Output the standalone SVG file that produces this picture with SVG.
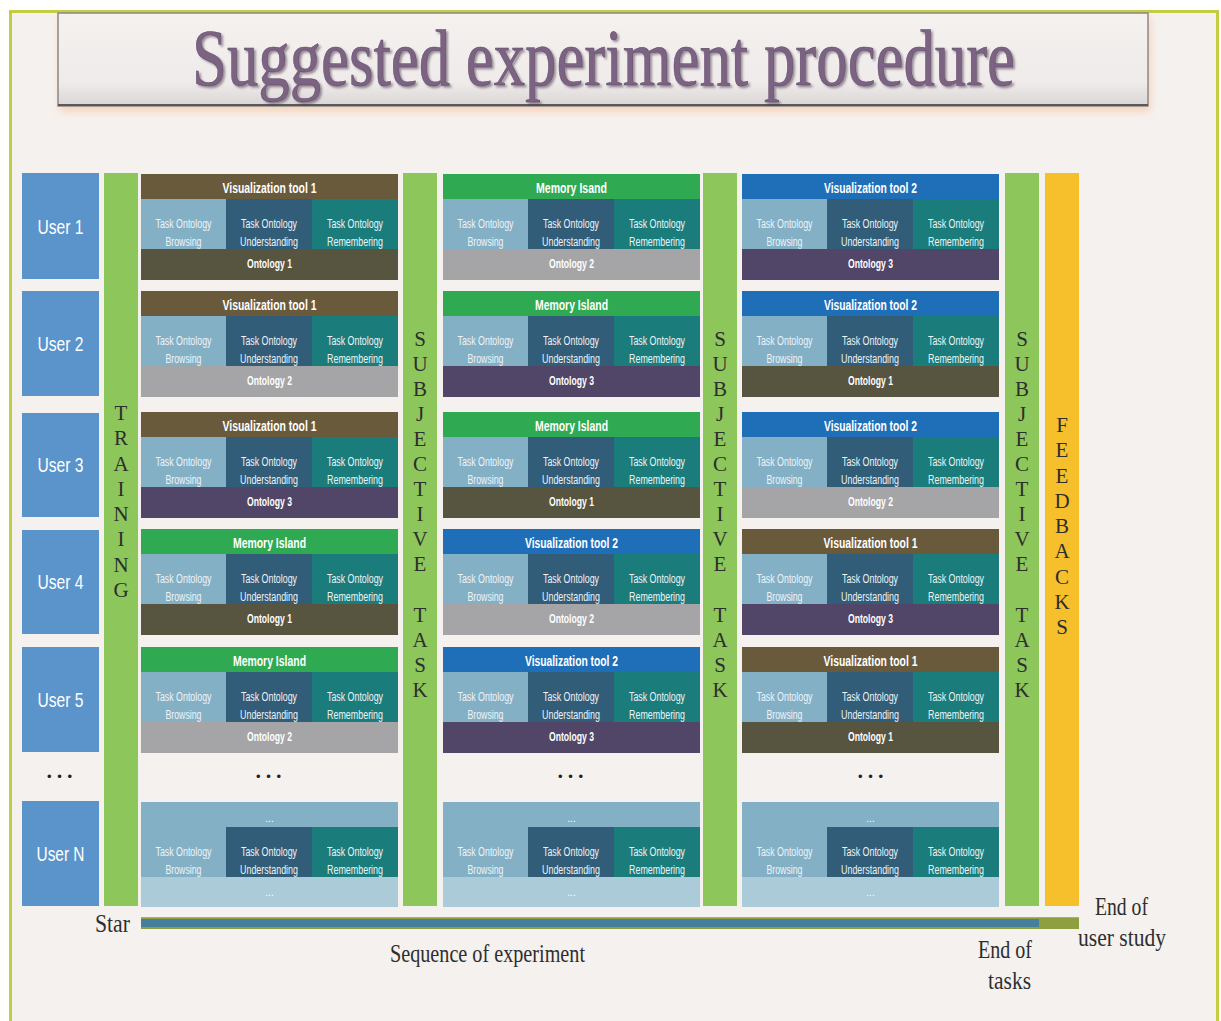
<svg xmlns="http://www.w3.org/2000/svg" xmlns:xlink="http://www.w3.org/1999/xlink" width="1221" height="1021" viewBox="0 0 1221 1021">
<style>
.ut{font-family:"Liberation Sans",Arial,sans-serif;font-size:21px;fill:#fff;text-anchor:middle}
.ht{font-family:"Liberation Sans",Arial,sans-serif;font-size:14px;font-weight:bold;fill:#fff;text-anchor:middle}
.ot{font-family:"Liberation Sans",Arial,sans-serif;font-size:12.5px;font-weight:bold;fill:#fff;text-anchor:middle}
.ct{font-family:"Liberation Sans",Arial,sans-serif;font-size:12.5px;fill:#eef4f7;text-anchor:middle}
.dt{font-family:"Liberation Sans",Arial,sans-serif;font-size:10px;fill:#fff;text-anchor:middle}
.vl{font-family:"Liberation Serif","Times New Roman",serif;font-size:21px;fill:#2e2e2e;text-anchor:middle}
.lb{font-family:"Liberation Serif","Times New Roman",serif;font-size:25px;fill:#2e2e2e}
.dots{font-family:"Liberation Sans",Arial,sans-serif;font-size:13px;fill:#222}
.vt1{fill:#6a5a3c}.mi{fill:#2faa52}.vt2{fill:#1f6fb8}
.o1{fill:#57543f}.o2{fill:#a5a5a8}.o3{fill:#514668}
.usr{fill:#5b94cb}.grn{fill:#8dc65a}
</style>
<defs>
<linearGradient id="tg" x1="0" y1="0" x2="0" y2="1">
<stop offset="0" stop-color="#f4f1ef"/>
<stop offset="0.75" stop-color="#efebea"/>
<stop offset="1" stop-color="#d9d5d4"/>
</linearGradient>
<filter id="glow" x="-5%" y="-30%" width="110%" height="160%">
<feGaussianBlur stdDeviation="4"/>
</filter>
<filter id="ts" x="-5%" y="-20%" width="110%" height="150%">
<feDropShadow dx="2" dy="1.6" stdDeviation="0.8" flood-color="#3c2c40" flood-opacity="0.5"/>
</filter>
<g id="tasks">
<rect x="0" y="0" width="85" height="50" fill="#84b0c6"/>
<rect x="85" y="0" width="86" height="50" fill="#325d78"/>
<rect x="171" y="0" width="86" height="50" fill="#1b7d7b"/>
<text class="ct" x="42.5" y="29" textLength="56" lengthAdjust="spacingAndGlyphs">Task Ontology</text>
<text class="ct" x="42.5" y="47" textLength="36" lengthAdjust="spacingAndGlyphs">Browsing</text>
<text class="ct" x="128" y="29" textLength="56" lengthAdjust="spacingAndGlyphs">Task Ontology</text>
<text class="ct" x="128" y="47" textLength="58" lengthAdjust="spacingAndGlyphs">Understanding</text>
<text class="ct" x="214" y="29" textLength="56" lengthAdjust="spacingAndGlyphs">Task Ontology</text>
<text class="ct" x="214" y="47" textLength="56" lengthAdjust="spacingAndGlyphs">Remembering</text>
</g>
</defs>

<rect x="0" y="0" width="1221" height="1021" fill="#ffffff"/>
<rect x="10" y="10" width="1208" height="1011" fill="#f5f1ee"/>
<g id="frame" fill="none" stroke="#c3cd42" stroke-width="3">
<line x1="10" y1="11.5" x2="1218" y2="11.5"/>
<line x1="10.5" y1="10" x2="10.5" y2="1021"/>
<line x1="1217.5" y1="10" x2="1217.5" y2="1021"/>
</g>

<g id="title">
<rect x="60" y="18" width="1090" height="93" fill="#f7c7a6" filter="url(#glow)" opacity="0.8"/>
<rect x="58" y="13" width="1090" height="93" fill="url(#tg)" stroke="#8a8888" stroke-width="1.5"/>
<line x1="58" y1="105" x2="1148" y2="105" stroke="#5a5858" stroke-width="2"/>
<text transform="translate(192,85) scale(1,1.27)" x="0" y="0" font-family="'Liberation Serif','Times New Roman',serif" font-size="63" fill="#7c6383" stroke="#5d4865" stroke-width="0.4" textLength="823" lengthAdjust="spacingAndGlyphs" filter="url(#ts)">Suggested experiment procedure</text>
</g>

<!-- Users -->
<g id="user1"><rect class="usr" x="22" y="173" width="77" height="106"/><text class="ut" x="60.5" y="234" textLength="46" lengthAdjust="spacingAndGlyphs">User 1</text></g>
<g id="user2"><rect class="usr" x="22" y="291" width="77" height="105"/><text class="ut" x="60.5" y="351" textLength="46" lengthAdjust="spacingAndGlyphs">User 2</text></g>
<g id="user3"><rect class="usr" x="22" y="413" width="77" height="104"/><text class="ut" x="60.5" y="472" textLength="46" lengthAdjust="spacingAndGlyphs">User 3</text></g>
<g id="user4"><rect class="usr" x="22" y="530" width="77" height="104"/><text class="ut" x="60.5" y="589" textLength="46" lengthAdjust="spacingAndGlyphs">User 4</text></g>
<g id="user5"><rect class="usr" x="22" y="647" width="77" height="105"/><text class="ut" x="60.5" y="707" textLength="46" lengthAdjust="spacingAndGlyphs">User 5</text></g>
<g id="userN"><rect class="usr" x="22" y="801" width="77" height="105"/><text class="ut" x="60.5" y="861" textLength="48" lengthAdjust="spacingAndGlyphs">User N</text></g>

<!-- Training column -->
<g id="training">
<rect class="grn" x="104" y="173" width="34" height="733"/>
<text class="vl"><tspan x="121" y="420">T</tspan><tspan x="121" y="445">R</tspan><tspan x="121" y="471">A</tspan><tspan x="121" y="496">I</tspan><tspan x="121" y="521">N</tspan><tspan x="121" y="546">I</tspan><tspan x="121" y="572">N</tspan><tspan x="121" y="597">G</tspan></text>
</g>

<!-- Subjective task columns -->
<g id="subj1">
<rect class="grn" x="403" y="173" width="34" height="733"/>
<text class="vl"><tspan x="420" y="346">S</tspan><tspan x="420" y="371">U</tspan><tspan x="420" y="396">B</tspan><tspan x="420" y="421">J</tspan><tspan x="420" y="446">E</tspan><tspan x="420" y="471">C</tspan><tspan x="420" y="496">T</tspan><tspan x="420" y="521">I</tspan><tspan x="420" y="546">V</tspan><tspan x="420" y="571">E</tspan><tspan x="420" y="622">T</tspan><tspan x="420" y="647">A</tspan><tspan x="420" y="672">S</tspan><tspan x="420" y="697">K</tspan></text>
</g>
<g id="subj2">
<rect class="grn" x="703" y="173" width="34" height="733"/>
<text class="vl"><tspan x="720" y="346">S</tspan><tspan x="720" y="371">U</tspan><tspan x="720" y="396">B</tspan><tspan x="720" y="421">J</tspan><tspan x="720" y="446">E</tspan><tspan x="720" y="471">C</tspan><tspan x="720" y="496">T</tspan><tspan x="720" y="521">I</tspan><tspan x="720" y="546">V</tspan><tspan x="720" y="571">E</tspan><tspan x="720" y="622">T</tspan><tspan x="720" y="647">A</tspan><tspan x="720" y="672">S</tspan><tspan x="720" y="697">K</tspan></text>
</g>
<g id="subj3">
<rect class="grn" x="1005" y="173" width="34" height="733"/>
<text class="vl"><tspan x="1022" y="346">S</tspan><tspan x="1022" y="371">U</tspan><tspan x="1022" y="396">B</tspan><tspan x="1022" y="421">J</tspan><tspan x="1022" y="446">E</tspan><tspan x="1022" y="471">C</tspan><tspan x="1022" y="496">T</tspan><tspan x="1022" y="521">I</tspan><tspan x="1022" y="546">V</tspan><tspan x="1022" y="571">E</tspan><tspan x="1022" y="622">T</tspan><tspan x="1022" y="647">A</tspan><tspan x="1022" y="672">S</tspan><tspan x="1022" y="697">K</tspan></text>
</g>
<g id="feedbacks">
<rect x="1045" y="173" width="34" height="733" fill="#f6bf2c"/>
<text class="vl"><tspan x="1062" y="432">F</tspan><tspan x="1062" y="457">E</tspan><tspan x="1062" y="483">E</tspan><tspan x="1062" y="508">D</tspan><tspan x="1062" y="533">B</tspan><tspan x="1062" y="558">A</tspan><tspan x="1062" y="584">C</tspan><tspan x="1062" y="609">K</tspan><tspan x="1062" y="634">S</tspan></text>
</g>

<!-- Row 1 -->
<g id="r1c1"><rect class="vt1" x="141" y="174" width="257" height="25"/><text class="ht" x="269.5" y="193" textLength="94" lengthAdjust="spacingAndGlyphs">Visualization tool 1</text><use href="#tasks" x="141" y="199"/><rect class="o1" x="141" y="249" width="257" height="31"/><text class="ot" x="269.5" y="268" textLength="45" lengthAdjust="spacingAndGlyphs">Ontology 1</text></g>
<g id="r1c2"><rect class="mi" x="443" y="174" width="257" height="25"/><text class="ht" x="571.5" y="193" textLength="71" lengthAdjust="spacingAndGlyphs">Memory Isand</text><use href="#tasks" x="443" y="199"/><rect class="o2" x="443" y="249" width="257" height="31"/><text class="ot" x="571.5" y="268" textLength="45" lengthAdjust="spacingAndGlyphs">Ontology 2</text></g>
<g id="r1c3"><rect class="vt2" x="742" y="174" width="257" height="25"/><text class="ht" x="870.5" y="193" textLength="93" lengthAdjust="spacingAndGlyphs">Visualization tool 2</text><use href="#tasks" x="742" y="199"/><rect class="o3" x="742" y="249" width="257" height="31"/><text class="ot" x="870.5" y="268" textLength="45" lengthAdjust="spacingAndGlyphs">Ontology 3</text></g>

<!-- Row 2 -->
<g id="r2c1"><rect class="vt1" x="141" y="291" width="257" height="25"/><text class="ht" x="269.5" y="310" textLength="94" lengthAdjust="spacingAndGlyphs">Visualization tool 1</text><use href="#tasks" x="141" y="316"/><rect class="o2" x="141" y="366" width="257" height="31"/><text class="ot" x="269.5" y="385" textLength="45" lengthAdjust="spacingAndGlyphs">Ontology 2</text></g>
<g id="r2c2"><rect class="mi" x="443" y="291" width="257" height="25"/><text class="ht" x="571.5" y="310" textLength="73" lengthAdjust="spacingAndGlyphs">Memory Island</text><use href="#tasks" x="443" y="316"/><rect class="o3" x="443" y="366" width="257" height="31"/><text class="ot" x="571.5" y="385" textLength="45" lengthAdjust="spacingAndGlyphs">Ontology 3</text></g>
<g id="r2c3"><rect class="vt2" x="742" y="291" width="257" height="25"/><text class="ht" x="870.5" y="310" textLength="93" lengthAdjust="spacingAndGlyphs">Visualization tool 2</text><use href="#tasks" x="742" y="316"/><rect class="o1" x="742" y="366" width="257" height="31"/><text class="ot" x="870.5" y="385" textLength="45" lengthAdjust="spacingAndGlyphs">Ontology 1</text></g>

<!-- Row 3 -->
<g id="r3c1"><rect class="vt1" x="141" y="412" width="257" height="25"/><text class="ht" x="269.5" y="431" textLength="94" lengthAdjust="spacingAndGlyphs">Visualization tool 1</text><use href="#tasks" x="141" y="437"/><rect class="o3" x="141" y="487" width="257" height="31"/><text class="ot" x="269.5" y="506" textLength="45" lengthAdjust="spacingAndGlyphs">Ontology 3</text></g>
<g id="r3c2"><rect class="mi" x="443" y="412" width="257" height="25"/><text class="ht" x="571.5" y="431" textLength="73" lengthAdjust="spacingAndGlyphs">Memory Island</text><use href="#tasks" x="443" y="437"/><rect class="o1" x="443" y="487" width="257" height="31"/><text class="ot" x="571.5" y="506" textLength="45" lengthAdjust="spacingAndGlyphs">Ontology 1</text></g>
<g id="r3c3"><rect class="vt2" x="742" y="412" width="257" height="25"/><text class="ht" x="870.5" y="431" textLength="93" lengthAdjust="spacingAndGlyphs">Visualization tool 2</text><use href="#tasks" x="742" y="437"/><rect class="o2" x="742" y="487" width="257" height="31"/><text class="ot" x="870.5" y="506" textLength="45" lengthAdjust="spacingAndGlyphs">Ontology 2</text></g>

<!-- Row 4 -->
<g id="r4c1"><rect class="mi" x="141" y="529" width="257" height="25"/><text class="ht" x="269.5" y="548" textLength="73" lengthAdjust="spacingAndGlyphs">Memory Island</text><use href="#tasks" x="141" y="554"/><rect class="o1" x="141" y="604" width="257" height="31"/><text class="ot" x="269.5" y="623" textLength="45" lengthAdjust="spacingAndGlyphs">Ontology 1</text></g>
<g id="r4c2"><rect class="vt2" x="443" y="529" width="257" height="25"/><text class="ht" x="571.5" y="548" textLength="93" lengthAdjust="spacingAndGlyphs">Visualization tool 2</text><use href="#tasks" x="443" y="554"/><rect class="o2" x="443" y="604" width="257" height="31"/><text class="ot" x="571.5" y="623" textLength="45" lengthAdjust="spacingAndGlyphs">Ontology 2</text></g>
<g id="r4c3"><rect class="vt1" x="742" y="529" width="257" height="25"/><text class="ht" x="870.5" y="548" textLength="94" lengthAdjust="spacingAndGlyphs">Visualization tool 1</text><use href="#tasks" x="742" y="554"/><rect class="o3" x="742" y="604" width="257" height="31"/><text class="ot" x="870.5" y="623" textLength="45" lengthAdjust="spacingAndGlyphs">Ontology 3</text></g>

<!-- Row 5 -->
<g id="r5c1"><rect class="mi" x="141" y="647" width="257" height="25"/><text class="ht" x="269.5" y="666" textLength="73" lengthAdjust="spacingAndGlyphs">Memory Island</text><use href="#tasks" x="141" y="672"/><rect class="o2" x="141" y="722" width="257" height="31"/><text class="ot" x="269.5" y="741" textLength="45" lengthAdjust="spacingAndGlyphs">Ontology 2</text></g>
<g id="r5c2"><rect class="vt2" x="443" y="647" width="257" height="25"/><text class="ht" x="571.5" y="666" textLength="93" lengthAdjust="spacingAndGlyphs">Visualization tool 2</text><use href="#tasks" x="443" y="672"/><rect class="o3" x="443" y="722" width="257" height="31"/><text class="ot" x="571.5" y="741" textLength="45" lengthAdjust="spacingAndGlyphs">Ontology 3</text></g>
<g id="r5c3"><rect class="vt1" x="742" y="647" width="257" height="25"/><text class="ht" x="870.5" y="666" textLength="94" lengthAdjust="spacingAndGlyphs">Visualization tool 1</text><use href="#tasks" x="742" y="672"/><rect class="o1" x="742" y="722" width="257" height="31"/><text class="ot" x="870.5" y="741" textLength="45" lengthAdjust="spacingAndGlyphs">Ontology 1</text></g>

<!-- Ellipsis row -->
<g id="ellipsis">
<text class="dots" x="47" y="781" textLength="25" lengthAdjust="spacing">• • •</text>
<text class="dots" x="256" y="781" textLength="25" lengthAdjust="spacing">• • •</text>
<text class="dots" x="558" y="781" textLength="25" lengthAdjust="spacing">• • •</text>
<text class="dots" x="858" y="781" textLength="25" lengthAdjust="spacing">• • •</text>
</g>

<!-- Row N -->
<g id="rNc1"><rect fill="#84b0c6" x="141" y="802" width="257" height="25"/><text class="dt" x="269.5" y="822">...</text><use href="#tasks" x="141" y="827"/><rect fill="#abcbd9" x="141" y="877" width="257" height="30"/><text class="dt" x="269.5" y="896">...</text></g>
<g id="rNc2"><rect fill="#84b0c6" x="443" y="802" width="257" height="25"/><text class="dt" x="571.5" y="822">...</text><use href="#tasks" x="443" y="827"/><rect fill="#abcbd9" x="443" y="877" width="257" height="30"/><text class="dt" x="571.5" y="896">...</text></g>
<g id="rNc3"><rect fill="#84b0c6" x="742" y="802" width="257" height="25"/><text class="dt" x="870.5" y="822">...</text><use href="#tasks" x="742" y="827"/><rect fill="#abcbd9" x="742" y="877" width="257" height="30"/><text class="dt" x="870.5" y="896">...</text></g>

<!-- Timeline -->
<g id="connectors">
<rect x="141" y="917" width="938" height="12" fill="#8d9f3e"/>
<rect x="141" y="919" width="898" height="8" fill="#467f9b"/>
<line x1="141" y1="917.5" x2="1079" y2="917.5" stroke="#a9b845" stroke-width="1"/>
</g>

<g id="labels">
<text class="lb" x="95" y="932" textLength="35" lengthAdjust="spacingAndGlyphs">Star</text>
<text class="lb" x="390" y="962" textLength="195" lengthAdjust="spacingAndGlyphs">Sequence of experiment</text>
<text class="lb" x="978" y="958" textLength="54" lengthAdjust="spacingAndGlyphs">End of</text>
<text class="lb" x="988" y="989" textLength="43" lengthAdjust="spacingAndGlyphs">tasks</text>
<text class="lb" x="1095" y="915" textLength="53" lengthAdjust="spacingAndGlyphs">End of</text>
<text class="lb" x="1078" y="946" textLength="88" lengthAdjust="spacingAndGlyphs">user study</text>
</g>
</svg>
